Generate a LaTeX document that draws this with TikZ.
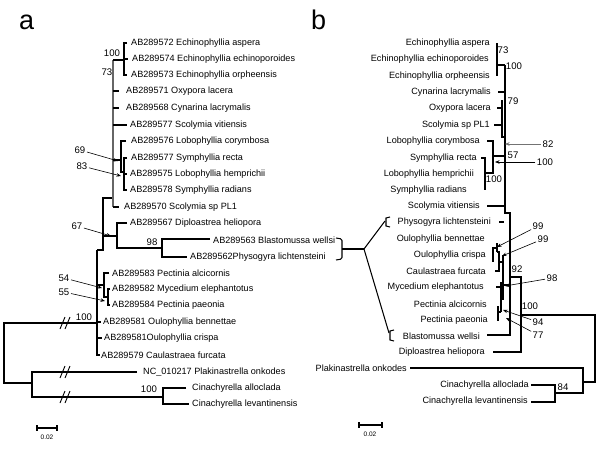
\documentclass[tikz,border=0pt]{standalone}
\usepackage{fontspec}
\setmainfont{Liberation Sans}
\usetikzlibrary{arrows.meta}
\begin{document}
\begin{tikzpicture}[x=1pt,y=-1pt,
  br/.style={line width=1.05pt},
  thk/.style={line width=1.8pt},
  lab/.style={font=\fontsize{9.1}{10}\selectfont, inner sep=0pt},
  labw/.style={lab, anchor=west},
  labe/.style={lab, anchor=east},
  num/.style={font=\fontsize{9.6}{10}\selectfont, inner sep=0pt},
  ptr/.style={-{Stealth[length=4.5pt,width=3.5pt]}, line width=0.6pt, shorten <=1.5pt},
  brk/.style={line width=0.9pt},
  sbl/.style={font=\fontsize{6.5}{7}\selectfont, inner sep=0pt},
  big/.style={font=\fontsize{27}{30}\selectfont, inner sep=0pt, anchor=base west}
]
\useasboundingbox (0,0) rectangle (600,450);
\fill[white] (0,0) rectangle (600,450);

% panel letters
\node[big] (pa) at (19,29) {a};
\node[big] (pb) at (311,29) {b};

% ================= panel a labels =================
\node[labw] (a1) at (131,43) {AB289572 Echinophyllia aspera};
\node[labw] (a2) at (132,59) {AB289574 Echinophyllia echinoporoides};
\node[labw] (a3) at (131,75) {AB289573 Echinophyllia orpheensis};
\node[labw] (a4) at (126,91) {AB289571 Oxypora lacera};
\node[labw] (a5) at (126,108) {AB289568 Cynarina lacrymalis};
\node[labw] (a6) at (130,125) {AB289577 Scolymia vitiensis};
\node[labw] (a7) at (131,141) {AB289576 Lobophyllia corymbosa};
\node[labw] (a8) at (131,158) {AB289577 Symphyllia recta};
\node[labw] (a9) at (130,174) {AB289575 Lobophyllia hemprichii};
\node[labw] (a10) at (130,190) {AB289578 Symphyllia radians};
\node[labw] (a11) at (124,207) {AB289570 Scolymia sp PL1};
\node[labw] (a12) at (130,223) {AB289567 Diploastrea heliopora};
\node[labw] (a13) at (213,240) {AB289563 Blastomussa wellsi};
\node[labw] (a14) at (190,257) {AB289562Physogyra lichtensteini};
\node[labw] (a15) at (112,273) {AB289583 Pectinia alcicornis};
\node[labw] (a16) at (112,289) {AB289582 Mycedium elephantotus};
\node[labw] (a17) at (112,305) {AB289584 Pectinia paeonia};
\node[labw] (a18) at (103,322) {AB289581 Oulophyllia bennettae};
\node[labw] (a19) at (104,338) {AB289581Oulophyllia crispa};
\node[labw] (a20) at (101,355) {AB289579 Caulastraea furcata};
\node[labw] (a21) at (143,372) {NC\_010217 Plakinastrella onkodes};
\node[labw] (a22) at (192,388) {Cinachyrella alloclada};
\node[labw] (a23) at (192,404) {Cinachyrella levantinensis};

% ================= panel a tree =================
\draw[br] (97,323) -- (4,323) -- (4,383) -- (32,383);
\draw[br] (137,372) -- (32,372) -- (32,397) -- (163,397);
\draw[br] (186,388) -- (163,388) -- (163,404) -- (189,404);
\foreach \yy in {323,372,397}{
  \draw[brk] (60,\yy+6) -- (65,\yy-6);
  \draw[brk] (65,\yy+6) -- (70,\yy-6);
}
\draw[thk] (97,250) -- (97,356);
\draw[br] (97,355) -- (100,355);
\draw[br] (97,338) -- (102,338);
\draw[br] (97,322) -- (101,322);
\draw[br] (97,285) -- (104,285);
\draw[br] (109,273) -- (104,273) -- (104,297) -- (108,297);
\draw[br] (110,289) -- (108,289) -- (108,305) -- (110,305);
\draw[br] (97,250) -- (103,250) -- (103,198) -- (113,198);
\draw[line width=1.7pt, black!60] (113,60) -- (113,207);
\draw[br] (113,60) -- (124,60);
\draw[br] (127,43) -- (124,43) -- (124,75) -- (127,75);
\draw[br] (124,59) -- (128,59);
\draw[br] (113,91) -- (119,91);
\draw[br] (113,108) -- (119,108);
\draw[br] (113,125) -- (127,125);
\draw[br] (113,160) -- (121,160);
\draw[br] (126,141) -- (121,141) -- (121,172) -- (124,172);
\draw[br] (127,158) -- (124,158) -- (124,190) -- (127,190);
\draw[br] (124,174) -- (127,174);
\draw[br] (113,207) -- (119,207);
\draw[br] (103,236) -- (117,236);
\draw[br] (127,223) -- (117,223) -- (117,248) -- (162,248);
\draw[br] (210,239) -- (162,239) -- (162,257) -- (187,257);

% support values a
\node[num] (v1) at (112,53) {100};
\node[num] (v2) at (107,72) {73};
\node[num] (v3) at (80,150) {69};
\node[num] (v4) at (82,166) {83};
\node[num] (v5) at (77,226) {67};
\node[num] (v6) at (152,242) {98};
\node[num] (v7) at (64,278) {54};
\node[num] (v8) at (64,292) {55};
\node[num] (v9) at (84,317) {100};
\node[num] (v10) at (149,389) {100};
\coordinate (t3) at (118,161);
\coordinate (t4) at (121,176);
\coordinate (t5) at (111,236);
\coordinate (t7) at (102,288);
\coordinate (t8) at (105,301);
\draw[ptr] (v3) -- (t3);
\draw[ptr] (v4) -- (t4);
\draw[ptr] (v5) -- (t5);
\draw[ptr] (v7) -- (t7);
\draw[ptr] (v8) -- (t8);

% scale a
\draw[br] (37,428) -- (57,428);
\draw[br] (37,425) -- (37,431);
\draw[br] (57,425) -- (57,431);
\node[sbl] (sa) at (47,437) {0.02};

% ================= connecting brackets =================
\coordinate (bj) at (364,249);
\draw[br, rounded corners=1.5pt] (336,238) -- (342,239) -- (342,259) -- (336,260);
\draw[br] (342,249) -- (bj);
\draw[br] (390,217) -- (386,218) -- (386,226) -- (390,227);
\draw[br] (394,330) -- (390,331) -- (390,340) -- (394,341);
\draw[br] (bj) -- (385,221);
\draw[br] (bj) -- (389,333);

% ================= panel b labels =================
\node[labe] (b1) at (490,43) {Echinophyllia aspera};
\node[labe] (b2) at (489,59) {Echinophyllia echinoporoides};
\node[labe] (b3) at (490,76) {Echinophyllia orpheensis};
\node[labe] (b4) at (491,92) {Cynarina lacrymalis};
\node[labe] (b5) at (491,108) {Oxypora lacera};
\node[labe] (b6) at (490,125) {Scolymia sp PL1};
\node[labe] (b7) at (480,141) {Lobophyllia corymbosa};
\node[labe] (b8) at (477,158) {Symphyllia recta};
\node[labe] (b9) at (474,174) {Lobophyllia hemprichii};
\node[labe] (b10) at (467,190) {Symphyllia radians};
\node[labe] (b11) at (480,206) {Scolymia vitiensis};
\node[labe] (b12) at (491,222) {Physogyra lichtensteini};
\node[labe] (b13) at (485,239) {Oulophyllia bennettae};
\node[labe] (b14) at (486,255) {Oulophyllia crispa};
\node[labe] (b15) at (486,271) {Caulastraea furcata};
\node[labe] (b16) at (484,287) {Mycedium elephantotus};
\node[labe] (b17) at (487,304) {Pectinia alcicornis};
\node[labe] (b18) at (488,320) {Pectinia paeonia};
\node[labe] (b19) at (480,336) {Blastomussa wellsi};
\node[labe] (b20) at (485,352) {Diploastrea heliopora};
\node[labe] (b21) at (407,368) {Plakinastrella onkodes};
\node[labe] (b22) at (529,385) {Cinachyrella alloclada};
\node[labe] (b23) at (528,401) {Cinachyrella levantinensis};

% ================= panel b tree =================
\draw[br] (521,315) -- (595,315) -- (595,382) -- (583,382);
\draw[br] (410,368) -- (583,368) -- (583,393) -- (555,393);
\draw[br] (531,385) -- (555,385) -- (555,402) -- (531,402);
\draw[br] (510,277) -- (521,277) -- (521,352) -- (493,352);
\draw[br] (505,213) -- (510,213) -- (510,335) -- (487,335);
\draw[line width=1.5pt] (505,65) -- (505,214);
\draw[br] (505,65) -- (497,65);
\draw[br] (497,43) -- (497,76);
\draw[br] (498,92) -- (505,92);
\draw[br] (502,100) -- (502,137) -- (505,137);
\draw[br] (497,108) -- (502,108);
\draw[br] (494,125) -- (502,125);
\draw[br] (505,156) -- (493,156);
\draw[br] (487,141) -- (493,141) -- (493,173) -- (485,173);
\draw[br] (481,158) -- (485,158) -- (485,190);
\draw[br] (487,206) -- (505,206);
\draw[br] (499,222) -- (504,222);
\draw[br] (497,243) -- (497,252);
\draw[br] (497,248) -- (493,248) -- (493,262);
\draw[br] (497,252) -- (499,252) -- (499,271) -- (495,271);
\draw[br] (499,262) -- (503,262);
\draw[br] (503,255) -- (503,300);
\draw[br] (503,285) -- (510,285);
\draw[br] (501,282) -- (501,312);
\draw[br] (501,292) -- (503,292);
\draw[br] (496,287) -- (501,287);
\draw[br] (498,306) -- (498,321);
\draw[br] (498,312) -- (501,312);

% support values b
\node[num] (w1) at (503,50) {73};
\node[num] (w2) at (514,66) {100};
\node[num] (w3) at (513,101) {79};
\node[num] (w4) at (548,144) {82};
\node[num] (w5) at (513,155) {57};
\node[num] (w6) at (545,162) {100};
\node[num] (w7) at (494,179) {100};
\node[num] (w8) at (538,226) {99};
\node[num] (w9) at (543,239) {99};
\node[num] (w10) at (552,278) {98};
\node[num] (w11) at (517,269) {92};
\node[num] (w12) at (530,306) {100};
\node[num] (w13) at (538,322) {94};
\node[num] (w14) at (538,335) {77};
\node[num] (w15) at (563,387) {84};
\coordinate (u4) at (505,144);
\coordinate (u6) at (495,162);
\coordinate (u8) at (497,247);
\coordinate (u9) at (502,256);
\coordinate (u10) at (505,286);
\coordinate (u13) at (503,310);
\coordinate (u14) at (506,318);
\draw[ptr, black!55] (w4) -- (u4);
\draw[ptr] (w6) -- (u6);
\draw[ptr] (w8) -- (u8);
\draw[ptr] (w9) -- (u9);
\draw[ptr] (w10) -- (u10);
\draw[ptr] (w13) -- (u13);
\draw[ptr] (w14) -- (u14);

% scale b
\draw[br] (359,425) -- (382,425);
\draw[br] (359,422) -- (359,428);
\draw[br] (382,422) -- (382,428);
\node[sbl] (sb) at (370,434) {0.02};
\end{tikzpicture}
\end{document}
